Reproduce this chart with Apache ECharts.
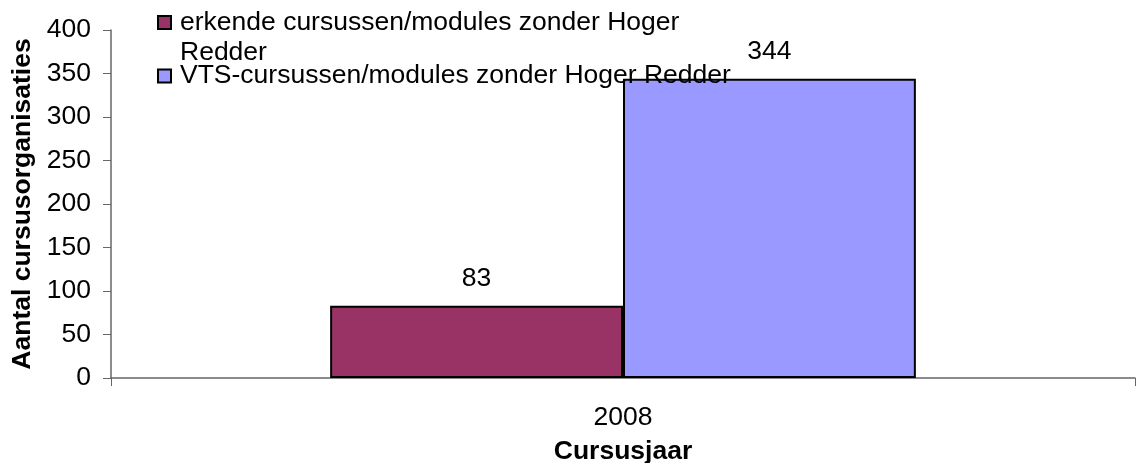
<!DOCTYPE html>
<html>
<head>
<meta charset="utf-8">
<script src="https://cdn.jsdelivr.net/npm/echarts@6/dist/echarts.min.js"></script>
<style>
    html, body { margin: 0; padding: 0; background: #fff; }
    #chart { width: 1136px; height: 463px; }
</style>
</head>
<body>
<div id="chart"></div>
<script>
const categories = ['2008'];
const seriesNames = [
    'erkende cursussen/modules zonder Hoger Redder',
    'VTS-cursussen/modules zonder Hoger Redder'
];
const erkendeValues = [83];
const vtsValues = [344];
const yMin = 0;
const yMax = 400;
const yStep = 50;

window.onload = function () {
    let chart = echarts.init(document.getElementById('chart'));
    const font = 'Liberation Sans, Arial, sans-serif';
    const size = 26.5;

    // bar style shared by both series
    function barSeries(name, values, color) {
        return {
            name: name,
            type: 'bar',
            data: values,
            barGap: '0%',
            barCategoryGap: '42.8%',
            itemStyle: { color: color, borderColor: '#000', borderWidth: 2 },
            label: {
                show: true,
                position: 'top',
                distance: 14,
                color: '#000',
                fontFamily: font,
                fontSize: size
            }
        };
    }

    let option = {
        animation: false,
        backgroundColor: '#fff',
        textStyle: { fontFamily: font },
        grid: { left: 111, right: 1, top: 30, bottom: 85, outerBoundsMode: 'none', containLabel: false },
        legend: [
            {
                data: [seriesNames[0]],
                left: 157,
                top: -22.5,
                padding: 0,
                selectedMode: false,
                itemWidth: 13,
                itemHeight: 13,
                icon: 'rect',
                // empty first line so the icon sits next to the first real line
                formatter: (name) => '\u00a0\n' + name.replace(' Redder', '\nRedder'),
                textStyle: { color: '#000', fontFamily: font, fontSize: size, lineHeight: 30, padding: [0, 0, 0, 4] }
            },
            {
                data: [seriesNames[1]],
                left: 157,
                top: 61,
                padding: 0,
                selectedMode: false,
                itemWidth: 13,
                itemHeight: 13,
                icon: 'rect',
                textStyle: { color: '#000', fontFamily: font, fontSize: size, lineHeight: 30, padding: [0, 0, 0, 4] }
            }
        ],
        xAxis: {
            type: 'category',
            data: categories,
            name: 'Cursusjaar',
            nameLocation: 'middle',
            nameGap: 60,
            nameTextStyle: { color: '#000', fontWeight: 'bold', fontSize: size, fontFamily: font },
            axisLine: { lineStyle: { color: '#666', width: 1.5 } },
            axisTick: { show: true, length: 8, lineStyle: { color: '#666' } },
            axisLabel: { color: '#000', fontSize: size, margin: 26, fontFamily: font }
        },
        yAxis: {
            type: 'value',
            min: yMin,
            max: yMax,
            interval: yStep,
            name: 'Aantal cursusorganisaties',
            nameLocation: 'middle',
            nameGap: 74,
            nameTextStyle: { color: '#000', fontWeight: 'bold', fontSize: size, fontFamily: font },
            axisLine: { show: true, lineStyle: { color: '#666', width: 1.5 } },
            axisTick: { show: true, length: 8, lineStyle: { color: '#666' } },
            axisLabel: { color: '#000', fontSize: size, margin: 20, fontFamily: font },
            splitLine: { show: false }
        },
        series: [
            barSeries(seriesNames[0], erkendeValues, '#993366'),
            barSeries(seriesNames[1], vtsValues, '#9999FF')
        ]
    };
    chart.setOption(option);
}
</script>
</body>
</html>
